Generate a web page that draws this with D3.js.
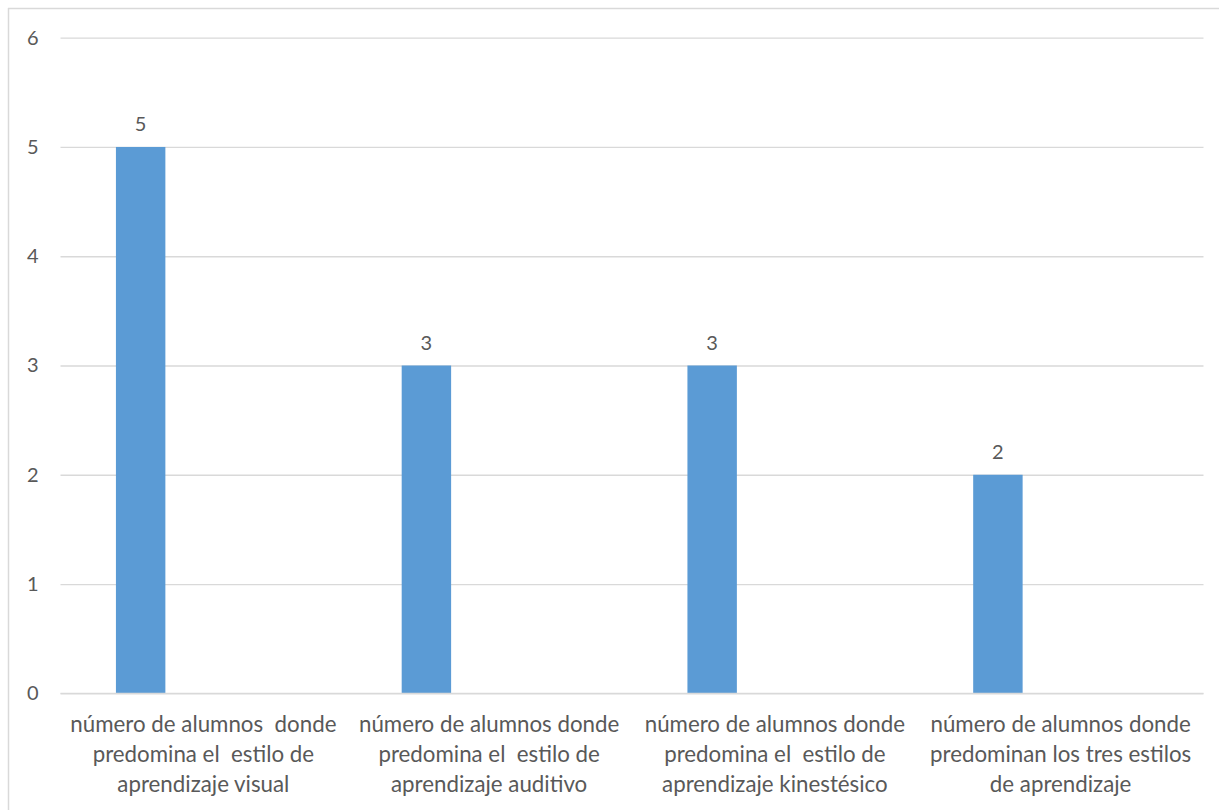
<!DOCTYPE html>
<html>
<head>
<meta charset="utf-8">
<script src="https://cdn.jsdelivr.net/npm/d3@7"></script>
<style>
  html, body { margin: 0; padding: 0; background: #fff; }
  svg { display: block; }
  text { font-family: Lato, "Open Sans", sans-serif; fill: #595959; white-space: pre; }
</style>
</head>
<body>
<svg id="chart" width="1219" height="810"></svg>
<script>
// ---- data ----
const categories = [
  "número de alumnos  donde predomina el  estilo de aprendizaje visual",
  "número de alumnos donde predomina el  estilo de aprendizaje auditivo",
  "número de alumnos donde predomina el  estilo de aprendizaje kinestésico",
  "número de alumnos donde predominan los tres estilos de aprendizaje"
];
const categoryLines = [
  ["número de alumnos  donde", "predomina el  estilo de", "aprendizaje visual"],
  ["número de alumnos donde", "predomina el  estilo de", "aprendizaje auditivo"],
  ["número de alumnos donde", "predomina el  estilo de", "aprendizaje kinestésico"],
  ["número de alumnos donde", "predominan los tres estilos", "de aprendizaje"]
];
const values = [5, 3, 3, 2];
const yTicks = [0, 1, 2, 3, 4, 5, 6];

// ---- layout ----
const W = 1219, H = 810;
const plot = { left: 60.5, right: 1203.5, top: 37.7, bottom: 693.3 };
const svg = d3.select("#chart");

svg.append("rect").attr("width", W).attr("height", H).attr("fill", "#fff");
// chart area border (top and left visible)
svg.append("line").attr("x1", 8).attr("x2", W).attr("y1", 8.5).attr("y2", 8.5)
  .attr("stroke", "#D9D9D9").attr("stroke-width", 1.5);
svg.append("line").attr("x1", 8.5).attr("x2", 8.5).attr("y1", 8).attr("y2", H)
  .attr("stroke", "#D9D9D9").attr("stroke-width", 1.5);

const x = d3.scaleBand().domain(categories).range([plot.left, plot.right]).padding(0);
const y = d3.scaleLinear().domain([0, 6]).range([plot.bottom, plot.top]);

// gridlines via axis
const grid = svg.append("g").attr("transform", `translate(${plot.left},0)`)
  .call(d3.axisLeft(y).tickValues(yTicks).tickSize(-(plot.right - plot.left)).tickFormat(""));
grid.select(".domain").remove();
grid.selectAll(".tick line").attr("stroke", "#D9D9D9").attr("stroke-width", 1.3);

// y tick labels
const yAxis = svg.append("g").attr("transform", `translate(${plot.left - 22},0)`)
  .call(d3.axisLeft(y).tickValues(yTicks).tickSize(0).tickPadding(0).tickFormat(d3.format("d")));
yAxis.select(".domain").remove();
yAxis.selectAll("text").attr("font-size", 20).attr("fill", "#595959")
  .attr("font-family", "Lato, 'Open Sans', sans-serif").attr("text-anchor", "end");

// bars (single visible series, offset within category like the original)
const barOffset = 0.194, barWidthFrac = 0.173;
svg.append("g").selectAll("rect").data(values).join("rect")
  .attr("x", (d, i) => x(categories[i]) + x.bandwidth() * barOffset)
  .attr("width", x.bandwidth() * barWidthFrac)
  .attr("y", d => y(d))
  .attr("height", d => y(0) - y(d))
  .attr("fill", "#5B9BD5");

// data labels
svg.append("g").selectAll("text").data(values).join("text")
  .attr("x", (d, i) => x(categories[i]) + x.bandwidth() * (barOffset + barWidthFrac / 2))
  .attr("y", d => y(d) - 16)
  .attr("text-anchor", "middle")
  .attr("font-size", 20)
  .text(d => d);

// baseline on top of grid
svg.append("line").attr("x1", plot.left).attr("x2", plot.right)
  .attr("y1", y(0)).attr("y2", y(0)).attr("stroke", "#D9D9D9").attr("stroke-width", 1.3);

// category labels
const lab = svg.append("g").selectAll("text").data(categories).join("text")
  .attr("x", d => x(d) + x.bandwidth() / 2)
  .attr("text-anchor", "middle")
  .attr("font-size", 22.3);
lab.each(function(d, i) {
  const t = d3.select(this);
  categoryLines[i].forEach((line, j) => {
    t.append("tspan").attr("x", x(d) + x.bandwidth() / 2)
      .attr("y", 732 + j * 30).text(line);
  });
});
</script>
</body>
</html>
